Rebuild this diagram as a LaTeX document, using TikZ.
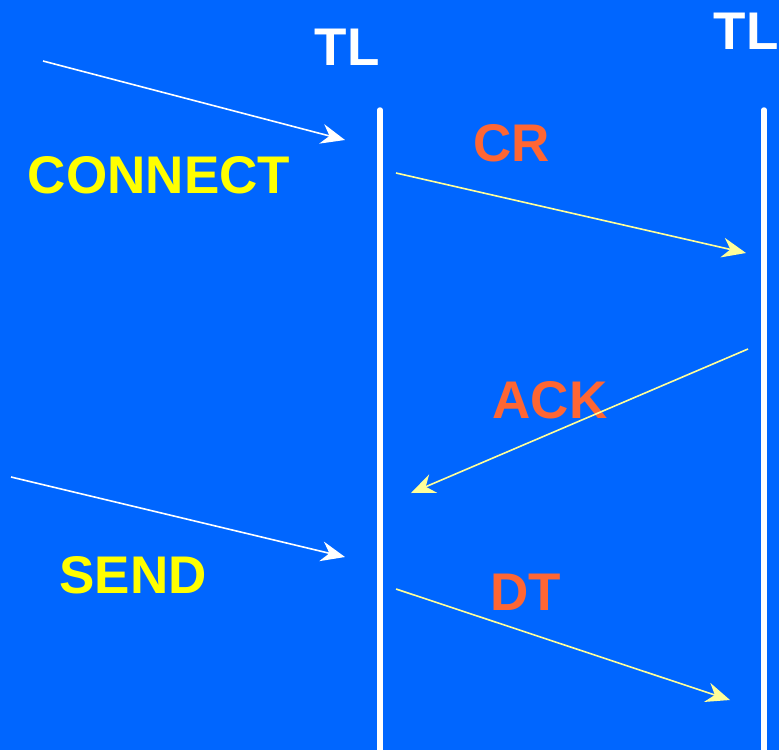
\documentclass[tikz,border=0pt]{standalone}
\usepackage{fontspec}
\setmainfont{Liberation Sans}
\usetikzlibrary{arrows.meta}
\definecolor{bg}{HTML}{0066FF}
\definecolor{lbl}{HTML}{FF6633}
\definecolor{ylw}{HTML}{FFFF00}
\definecolor{pale}{HTML}{FFFF99}
\tikzset{
  big/.style={font=\fontsize{53}{53}\selectfont\bfseries, inner sep=0pt},
  tl/.style={big, text=white},
  cmd/.style={big, text=ylw},
  msg/.style={big, text=lbl},
  life/.style={draw=white, line width=5.5pt, line cap=round},
  sig/.style={line width=1.6pt, -{Stealth[length=24pt, width=20pt, inset=8pt]}},
}
\begin{document}
\begin{tikzpicture}[x=1pt, y=-1pt]
\fill[bg] (0,0) rectangle (779,750);
\useasboundingbox (0,0) rectangle (779,750);
% lifelines
\coordinate (lt) at (380,110); \coordinate (lb) at (380,760);
\coordinate (rt) at (764,110); \coordinate (rb) at (764,760);
\draw[life] (lt) -- (lb);
\draw[life] (rt) -- (rb);
% labels
\node[tl] (tl1) at (347,47) {TL};
\node[tl] (tl2) at (746,31) {TL};
\node[cmd] (connect) at (159,175) {CONNECT};
\node[cmd] (send) at (133,575) {SEND};
\node[msg] (cr) at (512,143) {CR};
\node[msg] (ack) at (550,400) {ACK};
\node[msg] (dt) at (526,592) {DT};
% arrows
\coordinate (a1s) at (43,61);   \coordinate (a1e) at (345,140);
\coordinate (a2s) at (396,173); \coordinate (a2e) at (746,253);
\coordinate (a3s) at (748,349); \coordinate (a3e) at (411,493);
\coordinate (a4s) at (11,477);  \coordinate (a4e) at (345,557);
\coordinate (a5s) at (396,589); \coordinate (a5e) at (730,700);
\draw[sig, draw=white, fill=white] (a1s) -- (a1e);
\draw[sig, draw=pale, fill=pale] (a2s) -- (a2e);
\draw[sig, draw=pale, fill=pale] (a3s) -- (a3e);
\draw[sig, draw=white, fill=white] (a4s) -- (a4e);
\draw[sig, draw=pale, fill=pale] (a5s) -- (a5e);
\end{tikzpicture}
\end{document}
